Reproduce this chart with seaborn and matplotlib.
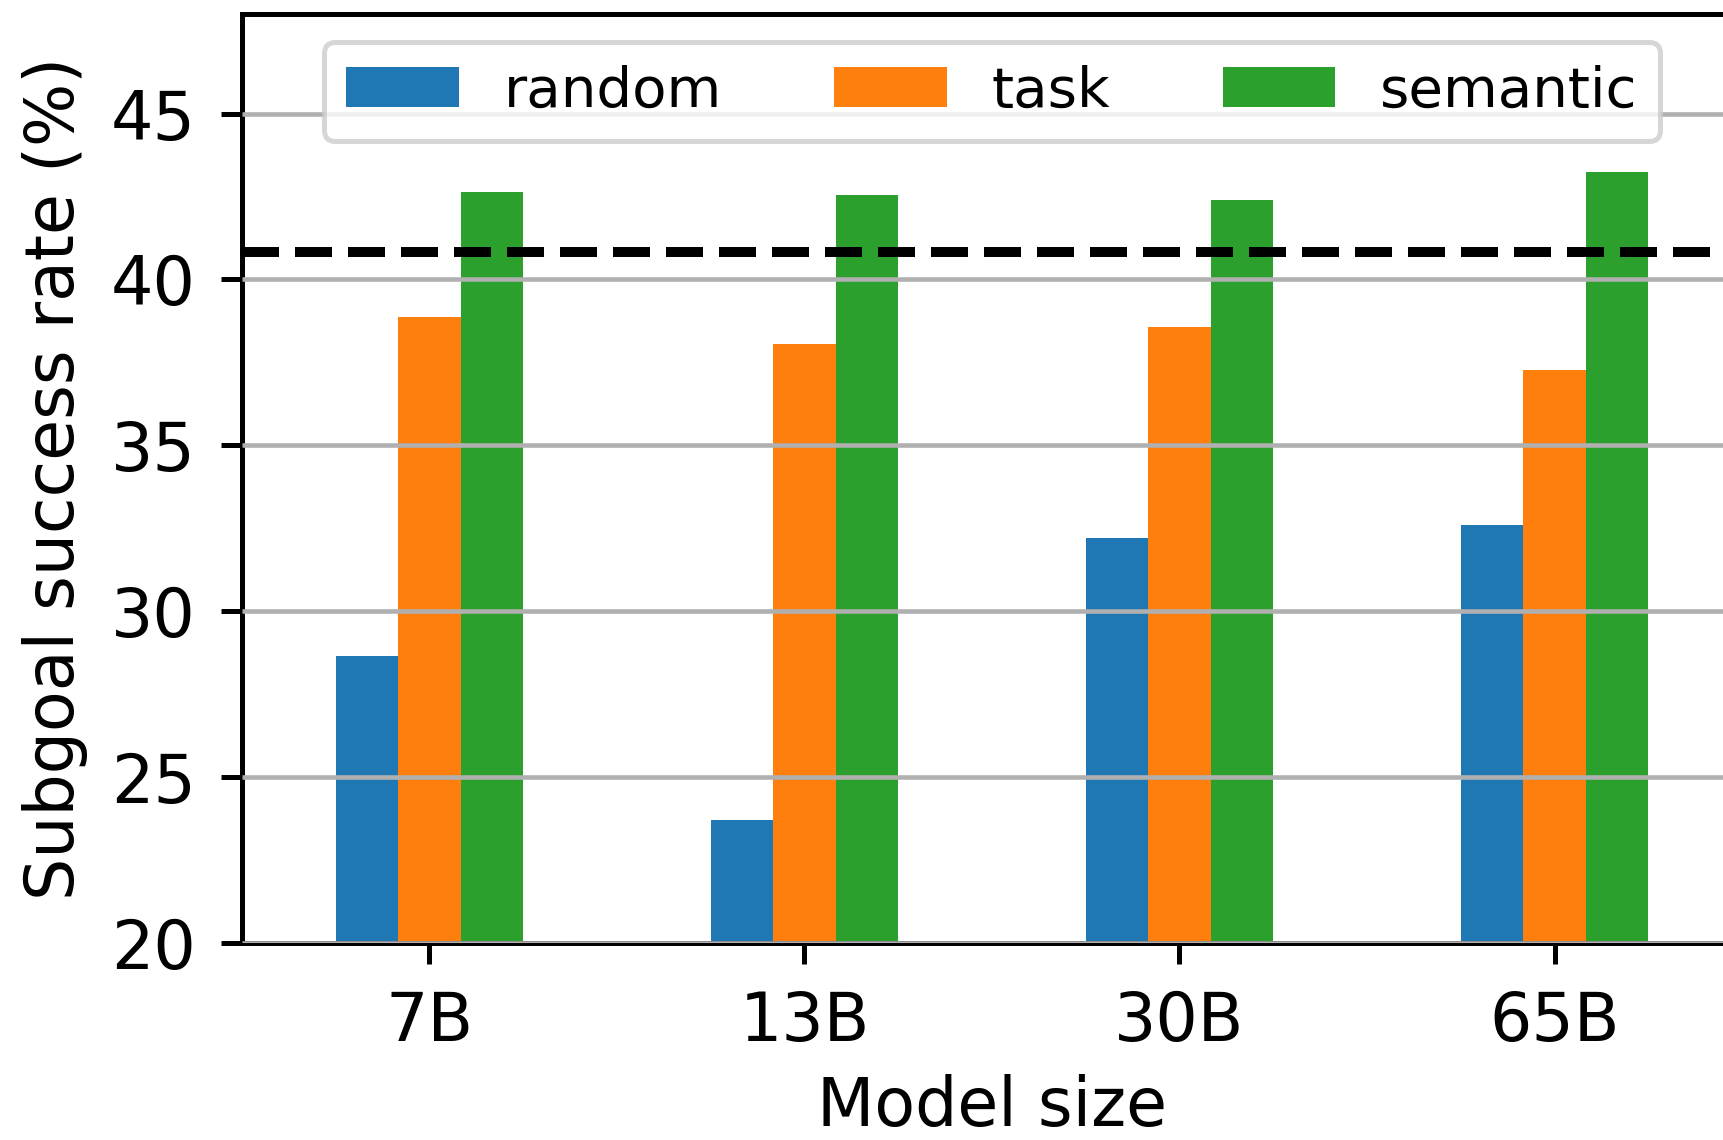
import matplotlib
matplotlib.use("Agg")
import matplotlib.pyplot as plt
import seaborn as sns
import pandas as pd

# Subgoal success rate (%) per model size and example-selection strategy
model_sizes = ["7B", "13B", "30B", "65B"]
strategies = ["random", "task", "semantic"]
random_rate = [28.65, 23.70, 32.20, 32.60]
task_rate = [38.88, 38.06, 38.56, 37.28]
semantic_rate = [42.63, 42.56, 42.40, 43.24]
baseline_rate = 40.82
y_ticks = [20, 25, 30, 35, 40, 45]

df = pd.DataFrame({
    "size": model_sizes * 3,
    "strategy": [s for s in strategies for _ in model_sizes],
    "rate": random_rate + task_rate + semantic_rate,
})

plt.rcParams["font.family"] = ["DejaVu Sans"]
fig = plt.figure(figsize=(1723 / 300, 1140 / 300), dpi=300)
ax = fig.add_axes([0.1403, 0.1728, 0.8708, 0.8149])

palette = ["#1f77b4", "#ff7f0e", "#2ca02c"]
sns.barplot(data=df, x="size", y="rate", hue="strategy", order=model_sizes,
            hue_order=strategies, palette=palette, width=0.5, saturation=1,
            edgecolor="none", linewidth=0, ax=ax)

ax.axhline(baseline_rate, color="black", linestyle="--", linewidth=2.4, zorder=3)

ax.set_ylim(20, 48)
ax.set_xlim(-0.5, 3.5)
ax.set_yticks(y_ticks)
ax.set_axisbelow(False)
ax.yaxis.grid(True, color="#b0b0b0", linewidth=1.1, zorder=2.5)
ax.xaxis.grid(False)

for side in ["left", "bottom", "top", "right"]:
    ax.spines[side].set_linewidth(1.2)
    ax.spines[side].set_color("black")

ax.tick_params(axis="both", labelsize=16, length=5, width=1.2, color="black", pad=6)
ax.set_xlabel("Model size", fontsize=16, labelpad=4.5)
ax.set_ylabel("Subgoal success rate (%)", fontsize=16, labelpad=5.5)

leg = ax.legend(loc="upper center", ncol=3, fontsize=13.5, frameon=True,
                fancybox=True, framealpha=0.8, edgecolor="#cccccc",
                title=None)
leg.get_frame().set_linewidth(1.2)
leg.set_zorder(5)

fig.savefig("out.png", dpi=300)
